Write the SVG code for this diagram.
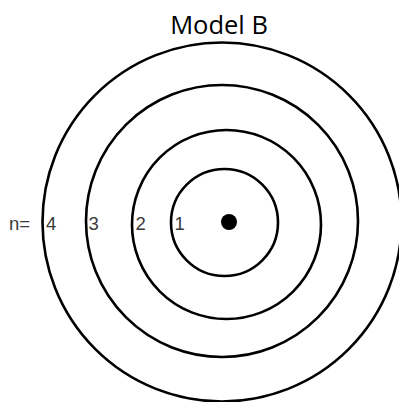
<svg xmlns="http://www.w3.org/2000/svg" width="399" height="402" viewBox="0 0 399 402">
<style>
.ring{fill:none;stroke:#000;stroke-width:2.6}
.lbl{font-family:"Liberation Sans",Arial,sans-serif;font-size:18.5px;fill:#3a3a3a}
.title{font-family:"Open Sans","Noto Sans",sans-serif;font-size:25.5px;fill:#000}
</style>
<rect width="399" height="402" fill="#fff"/>
<g id="title"><text class="title" x="219" y="34" text-anchor="middle">Model B</text></g>
<g id="ring4"><circle class="ring" cx="222" cy="222" r="179.5"/></g>
<g id="ring3"><circle class="ring" cx="222" cy="221" r="136"/></g>
<g id="ring2"><circle class="ring" cx="226.5" cy="224.5" r="94.5"/></g>
<g id="ring1"><circle class="ring" cx="224.5" cy="222.5" r="53.5"/></g>
<g id="nucleus"><circle cx="229" cy="222" r="8" fill="#000"/></g>
<g id="labels">
<text class="lbl" x="9" y="229.5">n=</text>
<text class="lbl" x="46" y="229.5">4</text>
<text class="lbl" x="88.5" y="229.5">3</text>
<text class="lbl" x="135.5" y="229.5">2</text>
<text class="lbl" x="174.5" y="229.5">1</text>
</g>
</svg>
